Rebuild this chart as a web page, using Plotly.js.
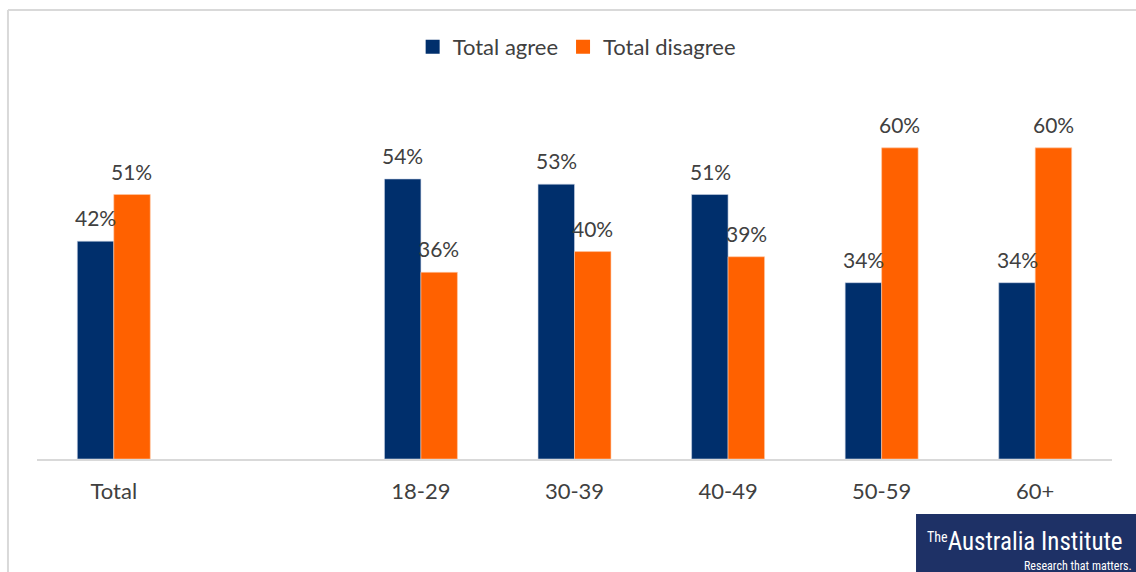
<!DOCTYPE html>
<html>
<head>
<meta charset="utf-8">
<script src="https://cdn.plot.ly/plotly-3.0.1.min.js"></script>
<style>html,body{margin:0;padding:0;background:#fff;}#chart{width:1136px;height:572px;}</style>
</head>
<body>
<div id="chart"></div>
<script>
const categories = ["Total", " ", "18-29", "30-39", "40-49", "50-59", "60+"];
const tickLabels = ["Total", "18-29", "30-39", "40-49", "50-59", "60+"];
const agree = [42, null, 54, 53, 51, 34, 34];
const disagree = [51, null, 36, 40, 39, 60, 60];
const agreeLabels = ["42%", "", "54%", "53%", "51%", "34%", "34%"];
const disagreeLabels = ["51%", "", "36%", "40%", "39%", "60%", "60%"];
const seriesNames = ["Total agree", "Total disagree"];

const NAVY = "#002F6C";
const ORANGE = "#FF6100";
const FONT = "Lato, Carlito, 'Open Sans', sans-serif";
const TEXT = "#404040";

const traces = [
  {type: "bar", name: seriesNames[0], x: categories, y: agree, showlegend: false,
   marker: {color: NAVY, line: {color: "#c9d4e6", width: 0.6}}, hoverinfo: "skip"},
  {type: "bar", name: seriesNames[1], x: categories, y: disagree, showlegend: false,
   marker: {color: ORANGE, line: {color: "#ffc9a6", width: 0.6}}, hoverinfo: "skip"},
  {type: "scatter", mode: "markers", name: seriesNames[0], x: [null], y: [null],
   marker: {symbol: "square", size: 14, color: NAVY}, hoverinfo: "skip"},
  {type: "scatter", mode: "markers", name: seriesNames[1], x: [null], y: [null],
   marker: {symbol: "square", size: 14, color: ORANGE}, hoverinfo: "skip"}
];

const annotations = [];
categories.forEach((c, i) => {
  if (agree[i] !== null) annotations.push({x: c, y: agree[i], xref: "x", yref: "y", text: agreeLabels[i],
    showarrow: false, xshift: -18, yanchor: "bottom", yshift: 9, font: {family: FONT, size: 21, color: TEXT}});
  if (disagree[i] !== null) annotations.push({x: c, y: disagree[i], xref: "x", yref: "y", text: disagreeLabels[i],
    showarrow: false, xshift: 18, yanchor: "bottom", yshift: 9, font: {family: FONT, size: 21, color: TEXT}});
});

// logo text
annotations.push({xref: "paper", yref: "paper", x: 0.919, y: -0.226, text: "<span style='font-size:20px'><sup>The</sup></span>Australia Institute",
  showarrow: false, xanchor: "center", yanchor: "middle",
  font: {family: "'Liberation Sans Narrow', 'Roboto Condensed', Roboto, sans-serif", size: 25, color: "#ffffff"}});
annotations.push({xref: "paper", yref: "paper", x: 1.02, y: -0.295, text: "Research that matters.",
  showarrow: false, xanchor: "right", yanchor: "middle",
  font: {family: "'Liberation Sans Narrow', 'Roboto Condensed', Roboto, sans-serif", size: 12, color: "#ffffff"}});

const layout = {
  width: 1136, height: 572,
  margin: {l: 37, r: 24, t: 96, b: 113},
  paper_bgcolor: "#ffffff", plot_bgcolor: "#ffffff",
  barmode: "group", bargap: 0.525, bargroupgap: 0,
  showlegend: true,
  legend: {orientation: "h", x: 0.502, xanchor: "center", y: 1.135, yanchor: "middle",
    font: {family: FONT, size: 22, color: TEXT}, itemwidth: 30, traceorder: "normal", tracegroupgap: 0},
  xaxis: {type: "category", categoryorder: "array", categoryarray: categories,
    tickmode: "array", tickvals: tickLabels, ticktext: tickLabels,
    showline: true, linecolor: "#d9d9d9", linewidth: 1.5, ticks: "", showgrid: false, zeroline: false,
    tickfont: {family: FONT, size: 22, color: TEXT}, ticklabelstandoff: 12},
  yaxis: {range: [0, 70], visible: false, showgrid: false, zeroline: false},
  annotations: annotations,
  shapes: [
    {type: "line", xref: "paper", yref: "paper", x0: -0.027, x1: 1.03, y0: 1.237, y1: 1.237, line: {color: "#d9d9d9", width: 2}},
    {type: "line", xref: "paper", yref: "paper", x0: -0.027, x1: -0.027, y0: 1.237, y1: -0.32, line: {color: "#d9d9d9", width: 2}},
    {type: "rect", xref: "paper", yref: "paper", x0: 0.8177, x1: 1.03, y0: -0.1515, y1: -0.33, fillcolor: "#1E3166", line: {width: 0}}
  ]
};

Plotly.newPlot("chart", traces, layout, {staticPlot: true, displayModeBar: false});
</script>
</body>
</html>
